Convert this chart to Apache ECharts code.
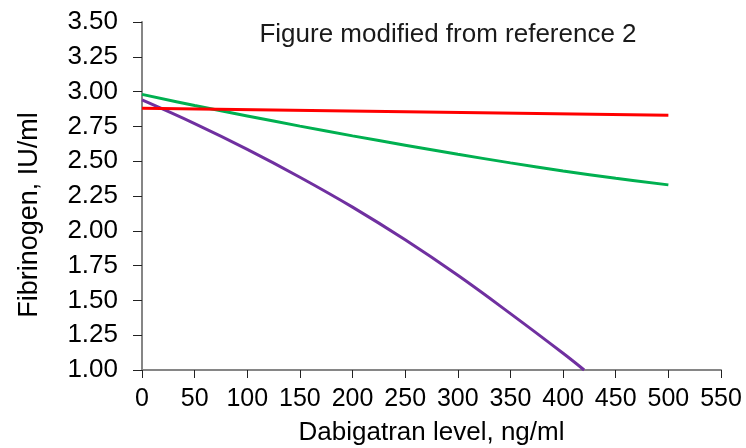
<!DOCTYPE html>
<html>
<head>
<meta charset="utf-8">
<script src="https://cdn.jsdelivr.net/npm/echarts@6/dist/echarts.min.js"></script>
<style>
  html, body { margin: 0; padding: 0; background: #fff; }
  #chart { width: 746px; height: 448px; }
</style>
</head>
<body>
<div id="chart"></div>
<script>
// Fibrinogen vs dabigatran level
const TITLE = 'Figure modified from reference 2';
const X_NAME = 'Dabigatran level, ng/ml';
const Y_NAME = 'Fibrinogen, IU/ml';

const redLevels = [0, 500];
const redValues = [2.88, 2.83];

const greenLevels = [0, 50, 100, 150, 200, 250, 300, 350, 400, 450, 500];
const greenValues = [2.98, 2.90, 2.825, 2.752, 2.682, 2.615, 2.55, 2.488, 2.43, 2.378, 2.33];

const purpleLevels = [0, 50, 100, 150, 200, 250, 300, 350, 400, 420];
const purpleValues = [2.94, 2.77, 2.585, 2.385, 2.17, 1.935, 1.68, 1.405, 1.12, 1.00];

const COLORS = { red: '#ff0000', green: '#00b050', purple: '#7030a0', axis: '#868686', text: '#000' };
const FONT = 'Liberation Sans, Arial, sans-serif';

const pairs = (xs, ys) => xs.map((x, i) => [x, ys[i]]);

const chart = echarts.init(document.getElementById('chart'), null, { renderer: 'canvas' });

chart.setOption({
  backgroundColor: '#fff',
  animation: false,
  title: {
    text: TITLE,
    left: 443, top: 17,
    textAlign: 'center',
    textStyle: { fontFamily: FONT, fontSize: 26, fontWeight: 'normal', color: '#1a1a1a' },
  },
  grid: { left: 142, right: 25, top: 22, bottom: 78, containLabel: false, outerBoundsMode: 'none' },
  xAxis: {
    type: 'value',
    min: 0, max: 550, interval: 50,
    name: X_NAME,
    nameLocation: 'middle',
    nameGap: 50,
    nameTextStyle: { fontFamily: FONT, fontSize: 26, color: COLORS.text },
    axisLine: { lineStyle: { color: COLORS.axis, width: 2 } },
    axisTick: { show: true, length: 8, lineStyle: { color: '#222', width: 1 } },
    axisLabel: { fontFamily: FONT, fontSize: 25, color: COLORS.text, margin: 17 },
    splitLine: { show: false },
  },
  yAxis: {
    type: 'value',
    min: 1.0, max: 3.5, interval: 0.25,
    name: Y_NAME,
    nameLocation: 'middle',
    nameGap: 99,
    nameTextStyle: { fontFamily: FONT, fontSize: 27, color: COLORS.text, padding: [0, 38, 0, 0] },
    axisLine: { show: true, lineStyle: { color: COLORS.axis, width: 2 } },
    axisTick: { show: true, length: 9, lineStyle: { color: '#222', width: 1 } },
    axisLabel: {
      fontFamily: FONT, fontSize: 26, color: COLORS.text, margin: 24,
      formatter: (v) => v.toFixed(2),
    },
    splitLine: { show: false },
  },
  series: [
    {
      type: 'line', data: pairs(redLevels, redValues),
      showSymbol: false, lineStyle: { color: COLORS.red, width: 3 }, z: 3,
    },
    {
      type: 'line', data: pairs(greenLevels, greenValues), smooth: 0.4,
      showSymbol: false, lineStyle: { color: COLORS.green, width: 3 }, z: 2,
    },
    {
      type: 'line', data: pairs(purpleLevels, purpleValues), smooth: 0.4,
      showSymbol: false, lineStyle: { color: COLORS.purple, width: 3 }, z: 2,
    },
  ],
});
</script>
</body>
</html>
